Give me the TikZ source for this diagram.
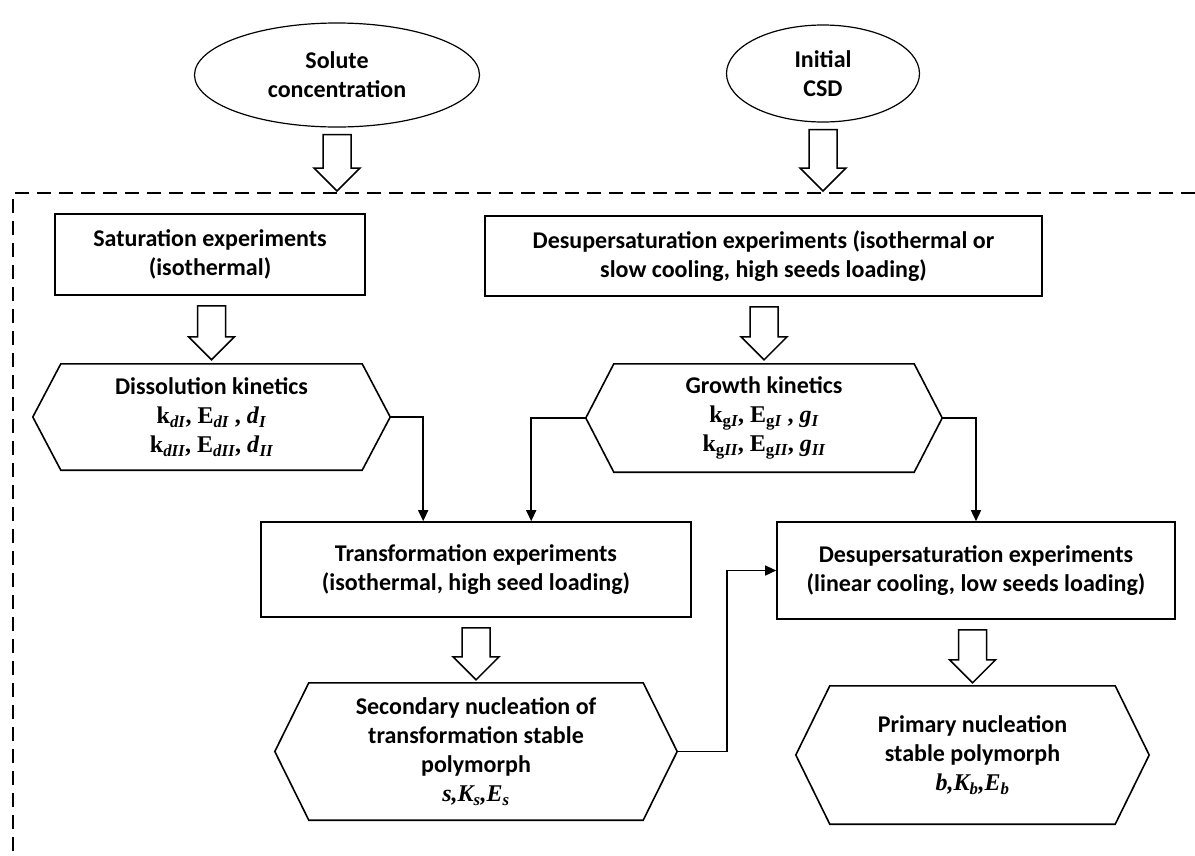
\documentclass[tikz,border=0pt]{standalone}
\usepackage{fontspec}
\setmainfont{Carlito}
\newfontfamily\mathserif{Liberation Serif}
\usetikzlibrary{shapes.geometric,arrows.meta,calc}
\newcommand\lbl{\bfseries\fontsize{24}{29}\selectfont}
\tikzset{
  box/.style={draw, line width=1.6pt, rectangle, align=center, inner sep=0pt, font=\lbl},
  hexnode/.style={rectangle, align=center, inner sep=0pt, font=\lbl},
  oval/.style={draw, ellipse, line width=1.2pt, align=center, inner sep=0pt, font=\lbl},
  conn/.style={line width=1.5pt, -{Triangle[length=11pt,width=10pt]}},
  fat/.style={line width=1.5pt, fill=white, line join=miter},
  frame/.style={line width=1.5pt, dash pattern=on 14pt off 8pt},
}
\newcommand\hexa[2]{\draw[line width=1.6pt, line join=miter] (#1.west) -- ([xshift=#2]#1.north west) -- ([xshift=-#2]#1.north east) -- (#1.east) -- ([xshift=-#2]#1.south east) -- ([xshift=#2]#1.south west) -- cycle;}
\newcommand\barrow[2]{\draw[fat] let \p1=#1, \p2=#2 in (\x1-14pt,\y1) -- (\x1+14pt,\y1) -- (\x1+14pt,\y2+23pt) -- (\x1+23pt,\y2+23pt) -- (\x1,\y2) -- (\x1-23pt,\y2+23pt) -- (\x1-14pt,\y2+23pt) -- cycle;}
\begin{document}
\begin{tikzpicture}[x=1pt,y=-1pt]
\useasboundingbox (0,0) rectangle (1195,855);
% inputs
\node[oval, minimum width=285pt, minimum height=104pt] (sol) at (337,75) {Solute\\concentration};
\node[oval, minimum width=193pt, minimum height=97pt] (ini) at (823,73.5) {Initial\\CSD};
% dashed frame
\coordinate (ftl) at (13,193);
\draw[frame] (1195,193) -- (ftl) -- (13,855);
% experiment boxes
\node[box, minimum width=310pt, minimum height=81pt] (sat) at (210,254.5) {Saturation experiments\\(isothermal)};
\node[box, minimum width=557pt, minimum height=80pt] (dtop) at (763.5,256) {Desupersaturation experiments (isothermal or\\slow cooling, high seeds loading)};
\node[box, minimum width=430pt, minimum height=95pt] (trans) at (476,569.5) {Transformation experiments\\(isothermal, high seed loading)};
\node[box, minimum width=398pt, minimum height=97pt] (lin) at (976,570.5) {Desupersaturation experiments\\(linear cooling, low seeds loading)};
% kinetics hexagons
\node[hexnode, minimum width=357pt, minimum height=106pt] (diss) at (211.5,417) {Dissolution kinetics\\
  {\mathserif k\textsubscript{\itshape dI}, E\textsubscript{\itshape dI} , \textit{d}\textsubscript{\itshape I}}\\
  {\mathserif k\textsubscript{\itshape dII}, E\textsubscript{\itshape dII}, \textit{d}\textsubscript{\itshape II}}};
\hexa{diss}{28pt}
\node[hexnode, minimum width=356pt, minimum height=108pt] (gro) at (764,418) {Growth kinetics\\
  {\mathserif k\textsubscript{g\itshape I}, E\textsubscript{g\itshape I} , \textit{g}\textsubscript{\itshape I}}\\
  {\mathserif k\textsubscript{g\itshape II}, E\textsubscript{g\itshape II}, \textit{g}\textsubscript{\itshape II}}};
\hexa{gro}{28pt}
\node[hexnode, minimum width=402pt, minimum height=137pt] (sec) at (476,751.5) {Secondary nucleation of\\transformation stable\\polymorph\\
  {\mathserif\itshape s,K\textsubscript{s},E\textsubscript{s}}};
\hexa{sec}{34pt}
\node[hexnode, minimum width=353pt, minimum height=138pt] (pri) at (972.5,755) {Primary nucleation\\stable polymorph\\
  {\mathserif\itshape b,K\textsubscript{b},E\textsubscript{b}}};
\hexa{pri}{34pt}
% block arrows
\barrow{($(sol.south)+(0,7)$)}{($(sol.south |- ftl)+(0,-2)$)}
\barrow{($(ini.south)+(0,7)$)}{($(ini.south |- ftl)+(0,-2)$)}
\barrow{($(sat.south -| diss.north)+(0,10)$)}{($(diss.north)+(0,-4)$)}
\barrow{($(dtop.south -| gro.north)+(0,10)$)}{($(gro.north)+(0,-4)$)}
\barrow{($(trans.south -| sec.north)+(0,10)$)}{($(sec.north)+(0,-3)$)}
\barrow{($(lin.south -| pri.north)+(0,10)$)}{($(pri.north)+(0,-3)$)}
% connectors
\draw[conn] (diss.east) -| ([xshift=163pt]trans.north west);
\draw[conn] (gro.west) -| ([xshift=271pt]trans.north west);
\draw[conn] (gro.east) -| (lin.north);
\draw[conn] (sec.east) -- ++(50,0) |- (lin.west);
\end{tikzpicture}
\end{document}
